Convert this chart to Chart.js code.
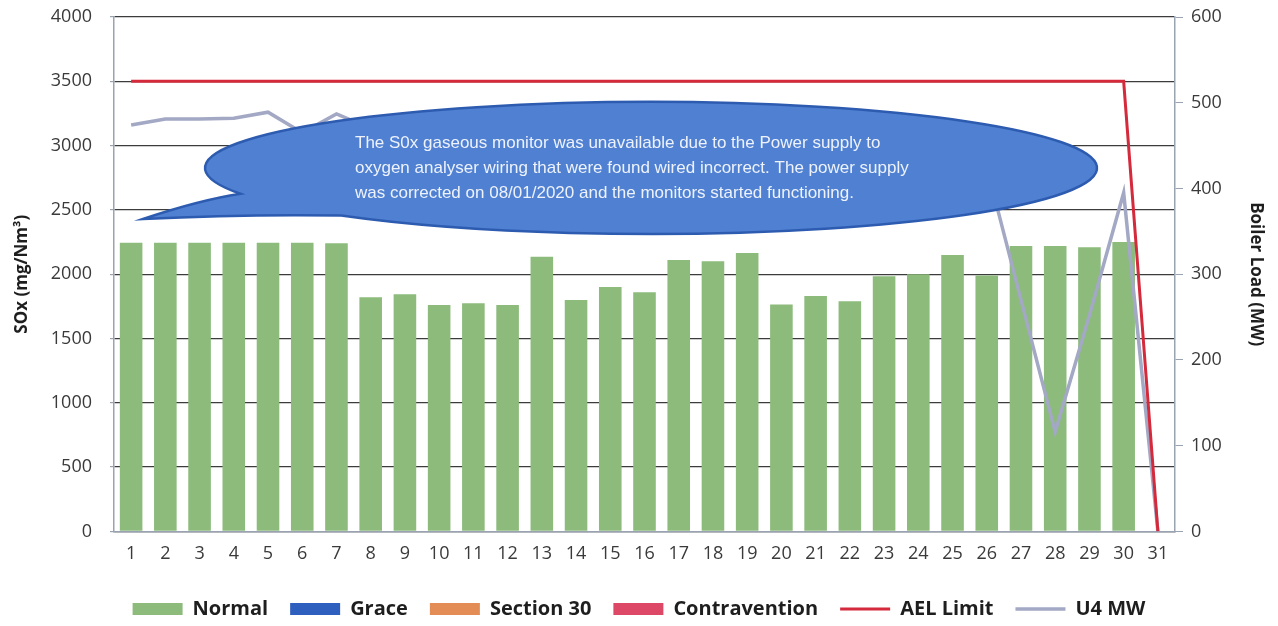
<!DOCTYPE html>
<html>
<head>
<meta charset="utf-8">
<script src="https://cdn.jsdelivr.net/npm/chart.js@4"></script>
<style>
  html, body { margin: 0; padding: 0; background: #ffffff; }
  #wrap { width: 1278px; height: 626px; position: relative; }
</style>
</head>
<body>
<div id="wrap"><canvas id="soxChart"></canvas></div>
<script>
// SOx daily averages vs boiler load

const days = ['1','2','3','4','5','6','7','8','9','10','11','12','13','14','15','16',
              '17','18','19','20','21','22','23','24','25','26','27','28','29','30','31'];

const normalSox = [2245, 2245, 2245, 2245, 2245, 2245, 2240, 1820, 1845, 1760, 1775, 1760, 2135, 1800, 1900, 1860,
                   2110, 2100, 2165, 1765, 1830, 1790, 1985, 2000, 2150, 1990, 2220, 2220, 2210, 2250, null];
const graceSox = days.map(() => null);
const section30Sox = days.map(() => null);
const contraventionSox = days.map(() => null);

const aelLimit = [3500, 3500, 3500, 3500, 3500, 3500, 3500, 3500, 3500, 3500, 3500, 3500, 3500, 3500, 3500, 3500,
                  3500, 3500, 3500, 3500, 3500, 3500, 3500, 3500, 3500, 3500, 3500, 3500, 3500, 3500, 0];

// values 8-25 sit behind the callout, estimated
const u4Mw = [474, 481, 481, 482, 489, 465, 487, 470, 475, 465, 470, 468, 480, 470, 472, 470,
              478, 478, 482, 465, 470, 468, 465, 460, 450, 425, 270, 116, 252, 395, 0];

const soxTicks = [0, 500, 1000, 1500, 2000, 2500, 3000, 3500, 4000];
const mwTicks = [0, 100, 200, 300, 400, 500, 600];

const calloutLines = [
    'The S0x gaseous monitor was unavailable due to the Power supply to',
    'oxygen analyser wiring that were found wired incorrect. The power supply',
    'was corrected on 08/01/2020 and the monitors started functioning.'
];

Chart.defaults.font.family = "'Open Sans', 'Liberation Sans', sans-serif";
Chart.defaults.color = '#3a3a3a';

// speech bubble drawn over the lines
const calloutPlugin = {
    id: 'callout',
    afterDatasetsDraw(chart) {
        const ctx = chart.ctx;
        const cx = 651, cy = 168, rx = 446, ry = 66;
        const a1 = 157 * Math.PI / 180;
        const a2 = (134 + 360) * Math.PI / 180;
        ctx.save();
        ctx.beginPath();
        ctx.ellipse(cx, cy, rx, ry, 0, a1, a2, false);
        ctx.quadraticCurveTo(240, 214, 143, 219);
        ctx.quadraticCurveTo(200, 200, cx + rx * Math.cos(a1), cy + ry * Math.sin(a1));
        ctx.closePath();
        ctx.fillStyle = '#4f80d2';
        ctx.fill();
        ctx.lineWidth = 2.5;
        ctx.strokeStyle = '#2d5bb0';
        ctx.stroke();

        ctx.fillStyle = '#eef2fb';
        ctx.font = "17px 'Liberation Sans', Arial, sans-serif";
        ctx.textAlign = 'left';
        ctx.textBaseline = 'middle';
        calloutLines.forEach((line, i) => {
            ctx.fillText(line, 355, 143 + i * 25);
        });
        ctx.restore();
    }
};

// keep tick label overflow from pushing the plot area down
function noVerticalPadding(axis) {
    axis.paddingTop = 0;
    axis.paddingBottom = 0;
}

new Chart(document.getElementById('soxChart'), {
    type: 'bar',
    data: {
        labels: days,
        datasets: [
            {
                label: 'Normal',
                data: normalSox,
                backgroundColor: '#8cbb7c',
                borderColor: '#8cbb7c',
                grouped: false,
                barPercentage: 0.66,
                categoryPercentage: 1,
                order: 2,
                yAxisID: 'y'
            },
            {
                label: 'Grace',
                data: graceSox,
                backgroundColor: '#2f5fbe',
                borderColor: '#2f5fbe',
                grouped: false,
                order: 2,
                yAxisID: 'y'
            },
            {
                label: 'Section 30',
                data: section30Sox,
                backgroundColor: '#e38c55',
                borderColor: '#e38c55',
                grouped: false,
                order: 2,
                yAxisID: 'y'
            },
            {
                label: 'Contravention',
                data: contraventionSox,
                backgroundColor: '#dc4866',
                borderColor: '#dc4866',
                grouped: false,
                order: 2,
                yAxisID: 'y'
            },
            {
                type: 'line',
                label: 'AEL Limit',
                data: aelLimit,
                borderColor: '#d42a3c',
                backgroundColor: '#d42a3c',
                borderWidth: 3,
                pointRadius: 0,
                tension: 0,
                order: 1,
                yAxisID: 'y'
            },
            {
                type: 'line',
                label: 'U4 MW',
                data: u4Mw,
                borderColor: '#a3a8c4',
                backgroundColor: '#a3a8c4',
                borderWidth: 3.5,
                pointRadius: 0,
                tension: 0,
                order: 1,
                yAxisID: 'y1'
            }
        ]
    },
    options: {
        responsive: true,
        maintainAspectRatio: false,
        animation: false,
        layout: {
            padding: { top: 17, left: 0, right: 0, bottom: -3 }
        },
        plugins: {
            tooltip: { enabled: false },
            legend: {
                position: 'bottom',
                labels: {
                    usePointStyle: true,
                    pointStyleWidth: 50,
                    boxHeight: 12,
                    padding: 22,
                    color: '#1e1e1e',
                    font: { size: 20, weight: 'bold' },
                    sort: (a, b) => a.datasetIndex - b.datasetIndex,
                    generateLabels(chart) {
                        const items = Chart.defaults.plugins.legend.labels.generateLabels(chart);
                        items.forEach(item => {
                            const ds = chart.data.datasets[item.datasetIndex];
                            if (ds.type === 'line') {
                                item.pointStyle = 'line';
                                item.lineWidth = ds.borderWidth;
                            } else {
                                item.pointStyle = 'rect';
                                item.lineWidth = 0;
                            }
                        });
                        return items;
                    }
                }
            }
        },
        scales: {
            x: {
                grid: { display: false, drawTicks: false },
                border: { color: '#9aa3b2', width: 1.5 },
                ticks: {
                    padding: 12,
                    maxRotation: 0,
                    autoSkip: false,
                    font: { size: 18 }
                }
            },
            y: {
                position: 'left',
                min: 0,
                max: 4000,
                afterBuildTicks(axis) {
                    axis.ticks = soxTicks.map(v => ({ value: v }));
                },
                afterFit(axis) {
                    axis.width = 114;
                    noVerticalPadding(axis);
                },
                grid: {
                    color: '#3c3c3c',
                    lineWidth: 1.2,
                    tickLength: 4,
                    tickColor: '#9aa3b2'
                },
                border: { color: '#9aa3b2', width: 1.5 },
                ticks: {
                    padding: 18,
                    font: { size: 18 },
                    callback: v => String(v)
                },
                title: {
                    display: true,
                    text: 'SOx (mg/Nm³)',
                    color: '#1e1e1e',
                    font: { size: 17, weight: 'bold' },
                    padding: { top: 12, bottom: 0 }
                }
            },
            y1: {
                position: 'right',
                min: 0,
                max: 600,
                afterBuildTicks(axis) {
                    axis.ticks = mwTicks.map(v => ({ value: v }));
                },
                afterFit(axis) {
                    axis.width = 103;
                    noVerticalPadding(axis);
                },
                grid: {
                    drawOnChartArea: false,
                    tickLength: 8,
                    tickColor: '#9aa3b2'
                },
                border: { color: '#9aa3b2', width: 1.5 },
                ticks: {
                    padding: 8,
                    font: { size: 18 },
                    callback: v => String(v)
                },
                title: {
                    display: true,
                    text: 'Boiler Load (MW)',
                    color: '#1e1e1e',
                    font: { size: 17, weight: 'bold' },
                    padding: { top: 12, bottom: 0 }
                }
            }
        }
    },
    plugins: [calloutPlugin]
});
</script>
</body>
</html>
